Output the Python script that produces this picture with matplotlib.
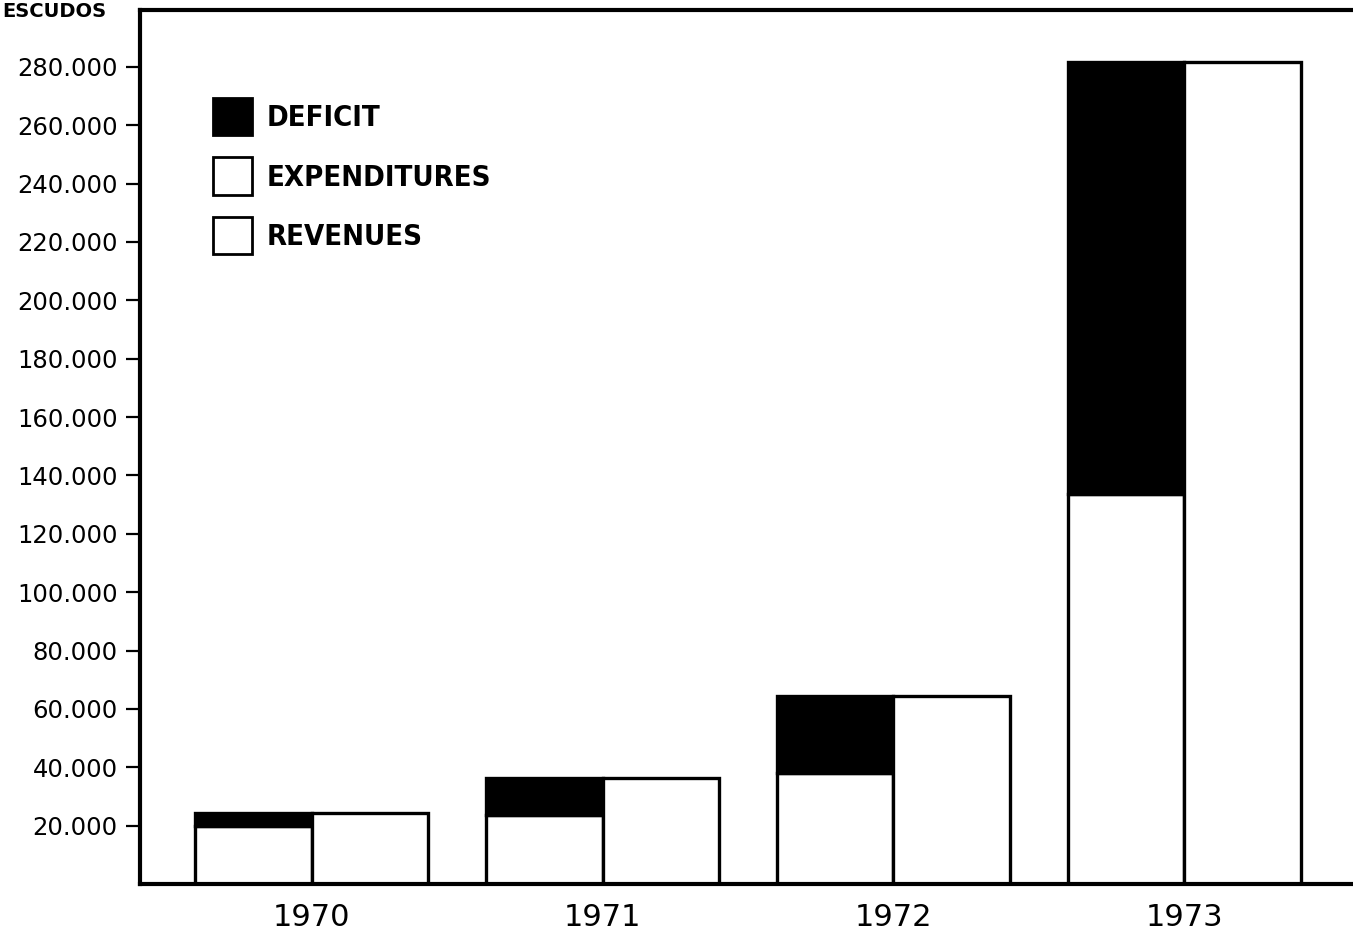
import numpy as np
import matplotlib.pyplot as plt
import matplotlib.patches as mpatches

# Data (escudos)
years = ['1970', '1971', '1972', '1973']
revenues = [20000, 23600, 38000, 133800]
expenditures = [24500, 36300, 64300, 281600]
deficit = [e - r for e, r in zip(expenditures, revenues)]
yticks = list(range(20000, 280001, 20000))
ytick_labels = [f"{v // 1000}.000" for v in yticks]

plt.rcParams['font.family'] = ['DejaVu Sans']

fig = plt.figure(figsize=(13.53, 9.36), dpi=100)
W, H = 1353, 936
ax = fig.add_axes([140 / W, (H - 884) / H, (W - 140) / W, (884 - 10) / H])

x = np.arange(len(years))
w = 0.40
lw = 2.4

# Revenue + deficit stacked on the left, expenditures on the right
ax.bar(x - w / 2, revenues, width=w, color='white', edgecolor='black', linewidth=lw)
ax.bar(x - w / 2, deficit, bottom=revenues, width=w, color='black', edgecolor='black', linewidth=lw)
ax.bar(x + w / 2, expenditures, width=w, color='white', edgecolor='black', linewidth=lw)

ax.set_xlim(-0.59, 3.58)
ax.set_ylim(0, 299500)

ax.set_yticks(yticks)
ax.set_yticklabels(ytick_labels, fontsize=17.5)
ax.tick_params(axis='y', length=10, width=1.6, pad=6)
ax.set_xticks(x)
ax.set_xticklabels(years, fontsize=22)
ax.tick_params(axis='x', length=0, pad=14)

for s in ['left', 'bottom', 'top']:
    ax.spines[s].set_linewidth(3)
ax.spines['right'].set_visible(False)

fig.text(0.002, 1 - 17 / H, 'ESCUDOS', fontsize=14, fontweight='bold', va='baseline')

handles = [
    mpatches.Patch(facecolor='black', edgecolor='black', linewidth=2, label='DEFICIT'),
    mpatches.Patch(facecolor='white', edgecolor='black', linewidth=2, label='EXPENDITURES'),
    mpatches.Patch(facecolor='white', edgecolor='black', linewidth=2, label='REVENUES'),
]
ax.legend(handles=handles, loc='upper left', bbox_to_anchor=((213 - 140) / 1213, 1 - (98 - 10) / 874),
          frameon=False, borderpad=0, borderaxespad=0,
          prop={'family': 'DejaVu Sans', 'stretch': 'condensed', 'weight': 'bold', 'size': 21},
          handlelength=1.35, handleheight=1.6, labelspacing=0.75, handletextpad=0.5)

fig.savefig('out.png', dpi=100)
